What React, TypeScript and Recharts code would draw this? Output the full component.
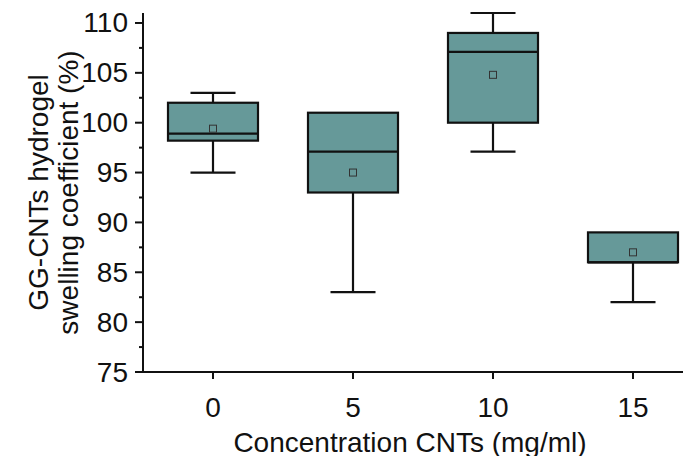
import { ComposedChart, Bar, XAxis, YAxis } from "recharts";

const concentrations = ["0", "5", "10", "15"];
const minValues = [95, 83, 97.1, 82];
const q1Values = [98.2, 93, 100, 86];
const medianValues = [98.9, 97.1, 107.1, 86];
const q3Values = [102, 101, 109, 89];
const maxValues = [103, 101, 111, 89];
const meanValues = [99.4, 95, 104.8, 87];
const yTicks = [75, 77.5, 80, 82.5, 85, 87.5, 90, 92.5, 95, 97.5, 100, 102.5, 105, 107.5, 110];

const FONT = "'Liberation Sans', Arial, sans-serif";
const BOX_FILL = "#669999";

const data = concentrations.map((c, i) => ({
  conc: c,
  range: [minValues[i], maxValues[i]],
  min: minValues[i],
  q1: q1Values[i],
  median: medianValues[i],
  q3: q3Values[i],
  max: maxValues[i],
  mean: meanValues[i],
}));

// draws the whole box + whiskers inside the [min, max] bar the library positions
function BoxShape(props: any) {
  const { x, y, width, height, payload } = props;
  const { min, q1, median, q3, max, mean } = payload;
  const span = max - min;
  const py = (v: number) => (span === 0 ? y : y + (height * (max - v)) / span);
  const cx = x + width / 2;
  const cap = width / 4;
  return (
    <g stroke="#111" strokeWidth={2.2}>
      {max > q3 && <line x1={cx} x2={cx} y1={py(max)} y2={py(q3)} />}
      {max > q3 && <line x1={cx - cap} x2={cx + cap} y1={py(max)} y2={py(max)} />}
      {min < q1 && <line x1={cx} x2={cx} y1={py(q1)} y2={py(min)} />}
      {min < q1 && <line x1={cx - cap} x2={cx + cap} y1={py(min)} y2={py(min)} />}
      <rect x={x} y={py(q3)} width={width} height={py(q1) - py(q3)} fill={BOX_FILL} />
      <line x1={x} x2={x + width} y1={py(median)} y2={py(median)} />
      <rect x={cx - 3.5} y={py(mean) - 3.5} width={7} height={7} fill={BOX_FILL} stroke="#333" strokeWidth={1} />
    </g>
  );
}

function YTick(props: any) {
  const { x, y, payload } = props;
  const major = payload.value % 5 === 0;
  return (
    <g>
      <line x1={x} x2={x - (major ? 8 : 4)} y1={y} y2={y} stroke="#111" strokeWidth={2} />
      {major && (
        <text x={x - 15} y={y} textAnchor="end" dominantBaseline="central" fontSize={28} fontFamily={FONT} fill="#111">
          {payload.value}
        </text>
      )}
    </g>
  );
}

function YLabel(props: any) {
  const { viewBox } = props;
  const cy = viewBox.y + viewBox.height / 2;
  return (
    <g fontSize={28} fontFamily={FONT} fill="#111" textAnchor="middle">
      <text x={48} y={cy} transform={`rotate(-90, 48, ${cy})`}>GG-CNTs hydrogel</text>
      <text x={78} y={cy} transform={`rotate(-90, 78, ${cy})`}>swelling coefficient (%)</text>
    </g>
  );
}

function XLabel(props: any) {
  const { viewBox } = props;
  return (
    <text x={410} y={viewBox.y + 80} textAnchor="middle" fontSize={28} fontFamily={FONT} fill="#111">
      Concentration CNTs (mg/ml)
    </text>
  );
}

export default function App() {
  return (
    <div style={{ margin: -8, width: 691, height: 464, overflow: "hidden", background: "#fff" }}>
      <ComposedChart width={710} height={464} data={data} margin={{ top: 13, right: 7, bottom: 0, left: 0 }}>
        <XAxis
          dataKey="conc"
          height={92}
          tickSize={7}
          tickMargin={18}
          axisLine={{ stroke: "#111", strokeWidth: 2 }}
          tickLine={{ stroke: "#111", strokeWidth: 2 }}
          tick={{ fontSize: 28, fill: "#111", fontFamily: FONT }}
          label={XLabel}
        />
        <YAxis
          width={143}
          domain={[75, 111]}
          ticks={yTicks}
          interval={0}
          tickSize={0}
          tickMargin={0}
          tickLine={false}
          axisLine={{ stroke: "#111", strokeWidth: 2 }}
          tick={YTick}
          label={YLabel}
        />
        <Bar dataKey="range" barSize={90} fill={BOX_FILL} shape={BoxShape} isAnimationActive={false} />
      </ComposedChart>
    </div>
  );
}
